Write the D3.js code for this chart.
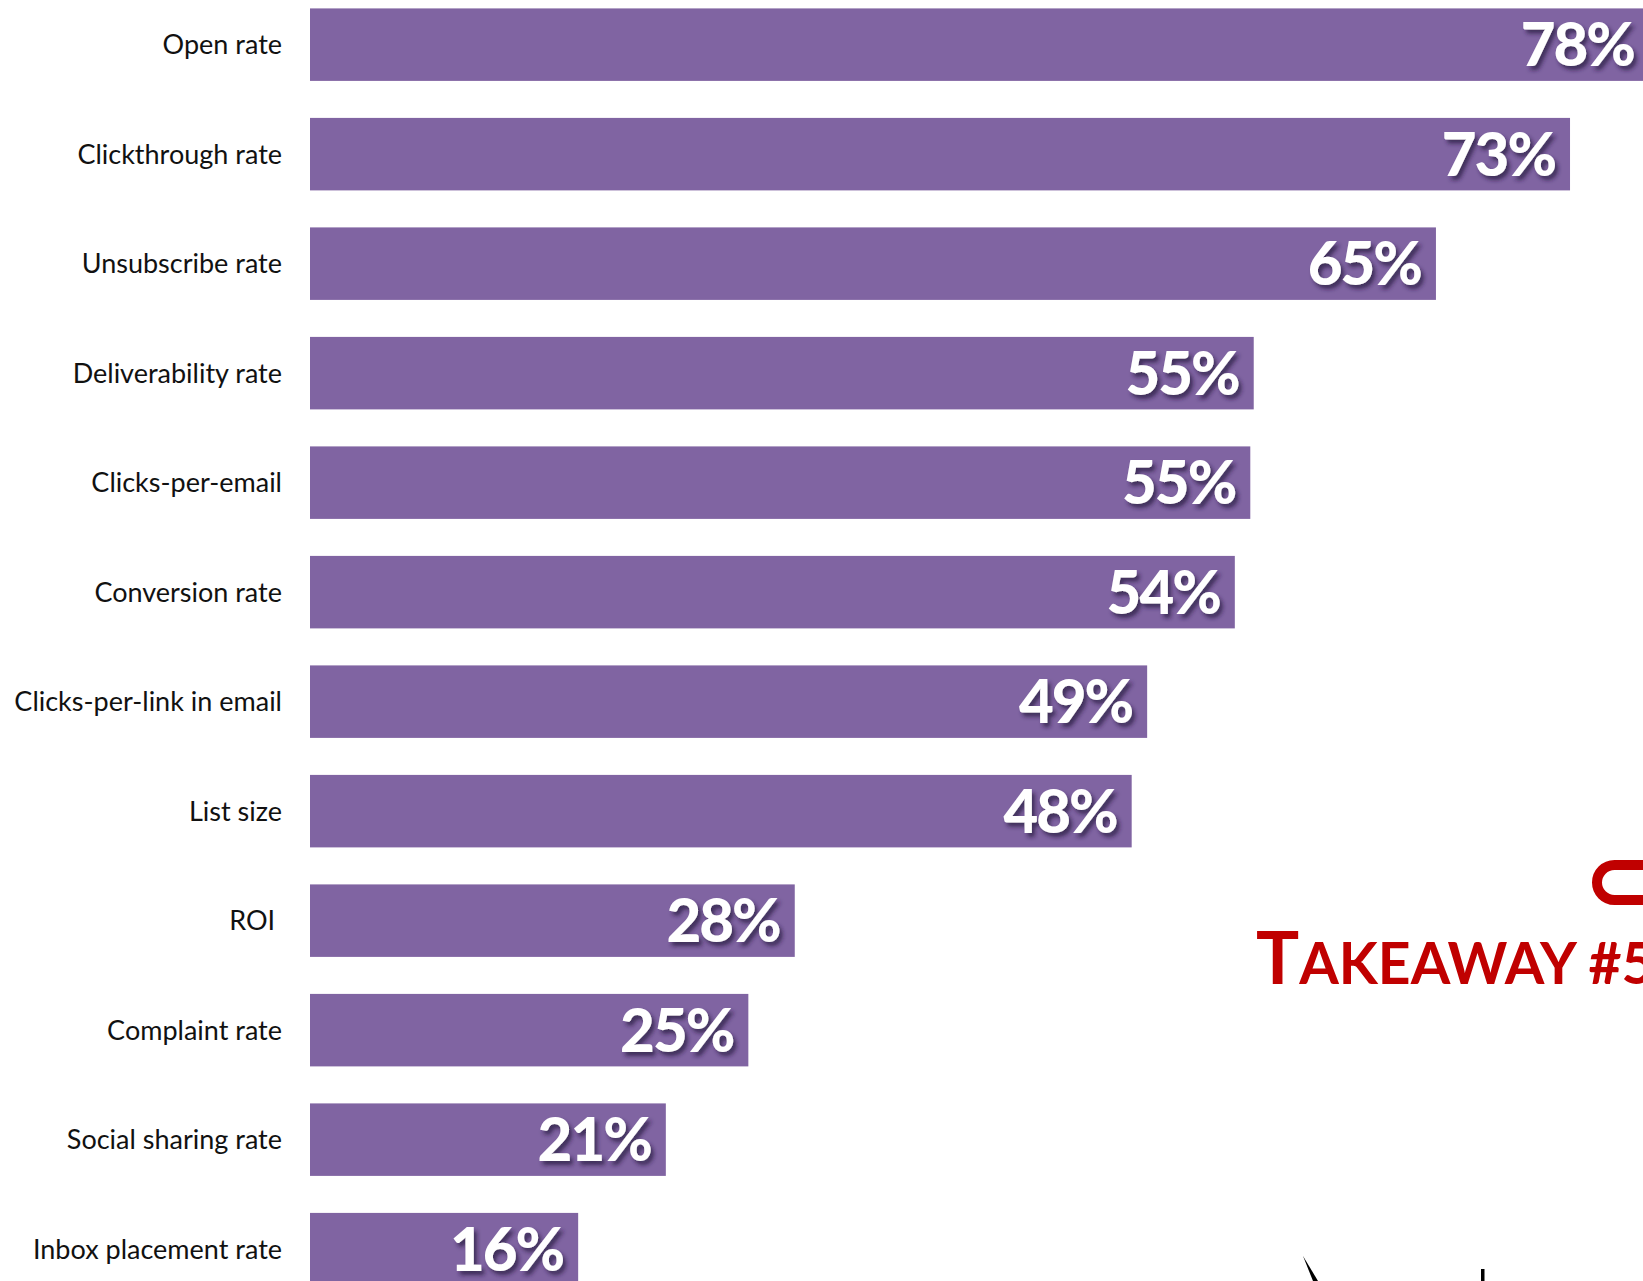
<!DOCTYPE html>
<html>
<head>
<meta charset="utf-8">
<script src="https://cdn.jsdelivr.net/npm/d3@7"></script>
<style>
  html, body { margin: 0; padding: 0; background: #ffffff; overflow: hidden; }
  svg { display: block; }
</style>
</head>
<body>
<svg id="chart" width="1643" height="1281"></svg>
<script>
const categories = ["Open rate", "Clickthrough rate", "Unsubscribe rate", "Deliverability rate",
  "Clicks-per-email", "Conversion rate", "Clicks-per-link in email", "List size", "ROI ",
  "Complaint rate", "Social sharing rate", "Inbox placement rate"];
// bar lengths (labels show the rounded figures)
const values = [78, 73.3, 65.5, 54.9, 54.7, 53.8, 48.7, 47.8, 28.2, 25.5, 20.7, 15.6];
const valueLabels = ["78%", "73%", "65%", "55%", "55%", "54%", "49%", "48%", "28%", "25%", "21%", "16%"];
const takeawayText = ["T", "AKEAWAY #5"];

const W = 1643, H = 1281;
const svg = d3.select("#chart");

const x = d3.scaleLinear().domain([0, 100]).range([310, 310 + 1719]);
const y = d3.scaleBand().domain(categories)
  .range([8.4 - 37 * 0.5, 8.4 - 37 * 0.5 + 109.5 * categories.length])
  .paddingInner(0.338).paddingOuter(0.169);

const defs = svg.append("defs");
const f = defs.append("filter").attr("id", "shadow")
  .attr("x", "-10%").attr("y", "-20%").attr("width", "130%").attr("height", "150%");
f.append("feDropShadow").attr("dx", 3).attr("dy", 4).attr("stdDeviation", 2)
  .attr("flood-color", "#2a1a40").attr("flood-opacity", 0.75);

const rows = categories.map((c, i) => ({ c, v: values[i], label: valueLabels[i] }));

// bars
svg.append("g").selectAll("rect").data(rows).join("rect")
  .attr("x", x(0))
  .attr("y", d => y(d.c))
  .attr("width", d => x(d.v) - x(0))
  .attr("height", y.bandwidth())
  .attr("fill", "#8064A2");

// category axis
const axis = d3.axisLeft(y).tickSize(0).tickPadding(0);
const ag = svg.append("g").attr("transform", "translate(282,0)").call(axis);
ag.select(".domain").remove();
ag.selectAll("text")
  .attr("font-family", "Lato, 'Open Sans', sans-serif")
  .attr("font-size", 27)
  .attr("fill", "#111")
  .attr("dy", "0.35em")
  .style("white-space", "pre");

// value labels
svg.append("g").selectAll("text").data(rows).join("text")
  .attr("x", d => Math.min(x(d.v), W + 6) - 15)
  .attr("y", d => y(d.c) + y.bandwidth() / 2)
  .attr("dy", "0.36em")
  .attr("text-anchor", "end")
  .attr("font-family", "Lato, 'Open Sans', sans-serif")
  .attr("font-weight", 900)
  .attr("font-size", 60)
  .attr("letter-spacing", -2)
  .attr("fill", "#ffffff")
  .attr("filter", "url(#shadow)")
  .text(d => d.label);

// red oval outline (partially visible)
svg.append("rect")
  .attr("x", 1597).attr("y", 865).attr("width", 220).attr("height", 35).attr("rx", 17.5)
  .attr("fill", "none").attr("stroke", "#C00000").attr("stroke-width", 10);

// Takeaway title
const t = svg.append("text")
  .attr("x", 1256).attr("y", 984)
  .attr("font-family", "Lato, 'Open Sans', sans-serif")
  .attr("font-weight", 700)
  .attr("fill", "#C00000");
t.append("tspan").attr("font-size", 72).text(takeawayText[0]);
t.append("tspan").attr("font-size", 57).text(takeawayText[1]);

// cut-off logo strokes at bottom right
svg.append("path")
  .attr("d", "M1303,1256 L1313,1281 L1318,1281 Z")
  .attr("fill", "#000");
svg.append("rect").attr("x", 1481).attr("y", 1269).attr("width", 3.5).attr("height", 12).attr("fill", "#000");
</script>
</body>
</html>
